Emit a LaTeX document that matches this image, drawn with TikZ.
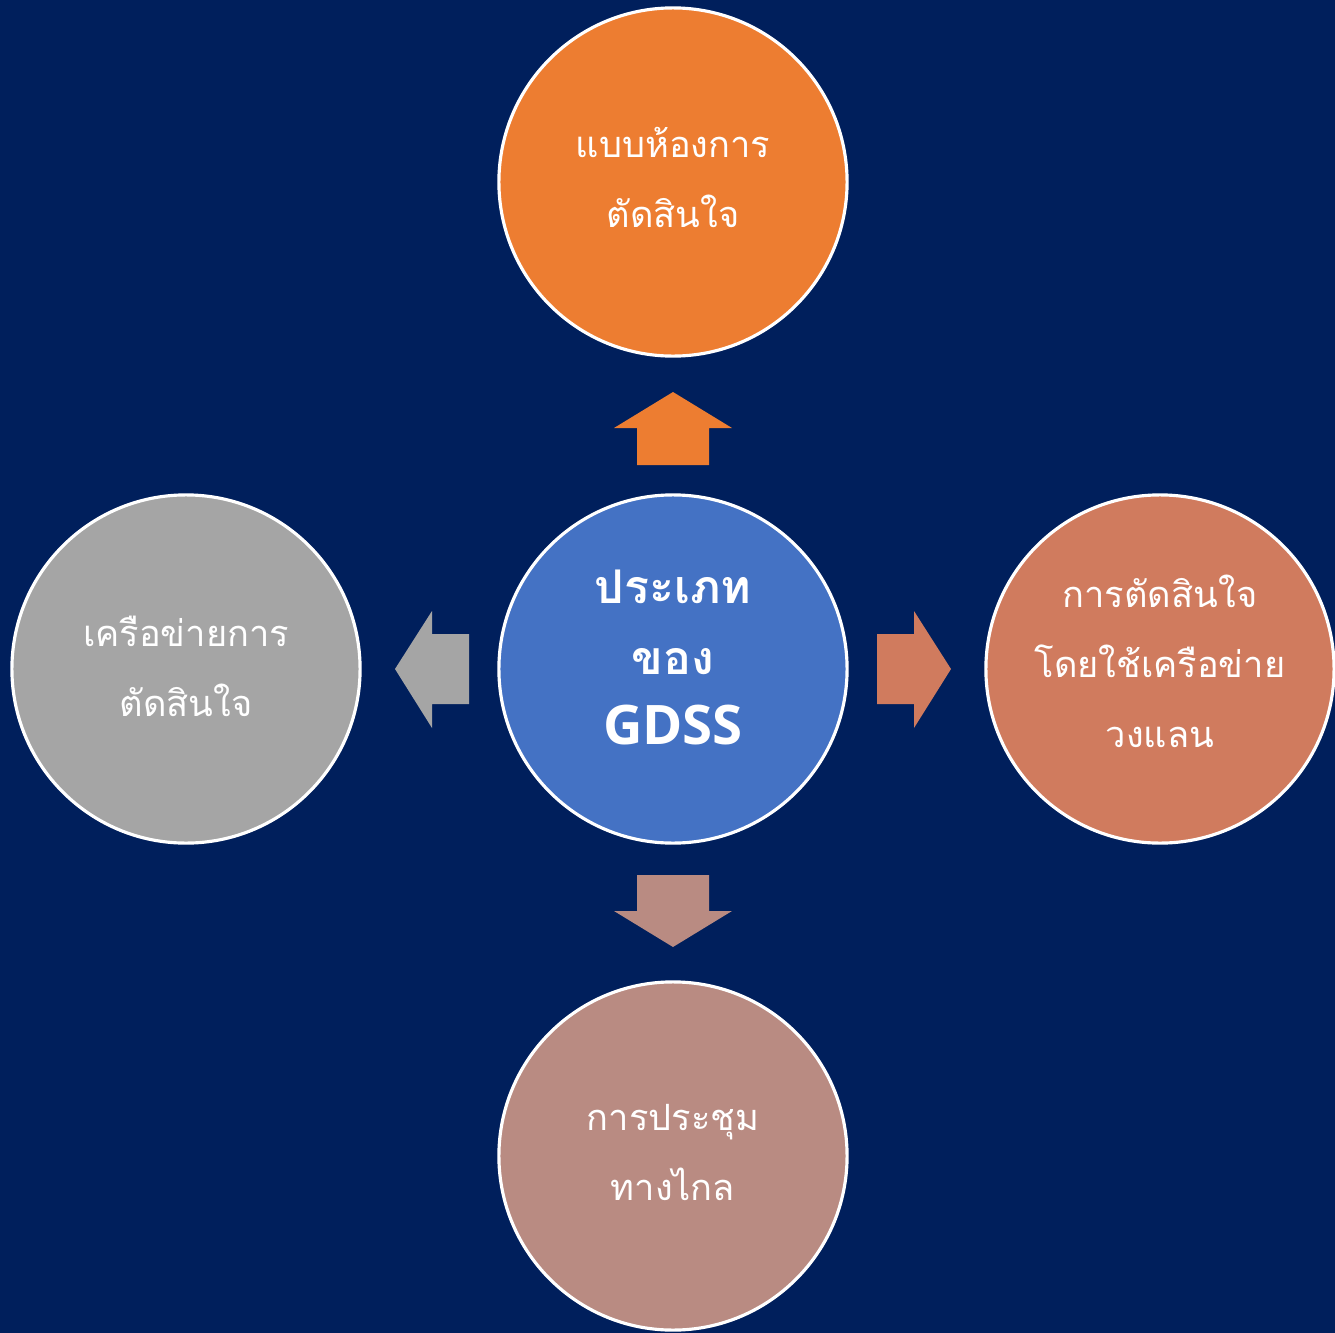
\documentclass[tikz,border=0pt]{standalone}
\usepackage{fontspec}
\newfontfamily\thaifont[Script=Thai]{Loma}
\newfontfamily\latinbold{Open Sans}
\definecolor{navy}{RGB}{0,31,92}
\definecolor{corange}{RGB}{237,125,49}
\definecolor{cblue}{RGB}{68,114,196}
\definecolor{ccoral}{RGB}{208,123,94}
\definecolor{crose}{RGB}{185,139,130}
\definecolor{cgray}{RGB}{165,165,165}
\tikzset{
  bubble/.style={circle, draw=white, line width=0.9pt, minimum size=3.48cm,
    inner sep=0pt},
  caption/.style={anchor=base, inner sep=0pt, text=white, align=center,
    font=\thaifont\fontsize{10.3}{19.9}\selectfont},
  titletext/.style={caption, font=\thaifont\bfseries\fontsize{13.2}{20}\selectfont}
}
\begin{document}
\begin{tikzpicture}[x=0.01cm, y=-0.01cm]
  \fill[navy] (0,0) rectangle (1335,1333);
  \useasboundingbox (0,0) rectangle (1335,1333);

  % centre and satellite circles
  \node[bubble, fill=cblue] (gdss) at (673,669) {};
  \node[bubble, fill=corange] (room) at (673,182) {};
  \node[bubble, fill=ccoral] (lan) at (1160,669) {};
  \node[bubble, fill=crose] (remote) at (673,1156) {};
  \node[bubble, fill=cgray] (net) at (186,669) {};

  % circle captions, placed on the baseline of their last line
  \node[titletext] (gdssA) at (673,603) {ประเภท};
  \node[titletext] (gdssB) at (673,674) {ของ};
  \node[titletext, font=\latinbold\bfseries\fontsize{15.5}{20}\selectfont] (gdssC) at (673,744) {GDSS};
  \node[caption] (roomtext) at (673,227) {แบบห้องการ\\ตัดสินใจ};
  \node[caption] (lantext) at (1160,747) {การตัดสินใจ\\โดยใช้เครือข่าย\\วงแลน};
  \node[caption] (remotetext) at (673,1200) {การประชุม\\ทางไกล};
  \node[caption] (nettext) at (186,716) {เครือข่ายการ\\ตัดสินใจ};

  % block arrows pointing from the centre outwards
  \fill[corange] (637,465) -- (637,428) -- (614,428) -- (673,392) -- (732,428)
    -- (709,428) -- (709,465) -- cycle;
  \fill[crose] (637,875) -- (637,911) -- (614,911) -- (673,947) -- (732,911)
    -- (709,911) -- (709,875) -- cycle;
  \fill[ccoral] (877,634) -- (914,634) -- (914,611) -- (951,669) -- (914,728)
    -- (914,704) -- (877,704) -- cycle;
  \fill[cgray] (469,634) -- (432,634) -- (432,611) -- (395,669) -- (432,728)
    -- (432,704) -- (469,704) -- cycle;
\end{tikzpicture}
\end{document}
